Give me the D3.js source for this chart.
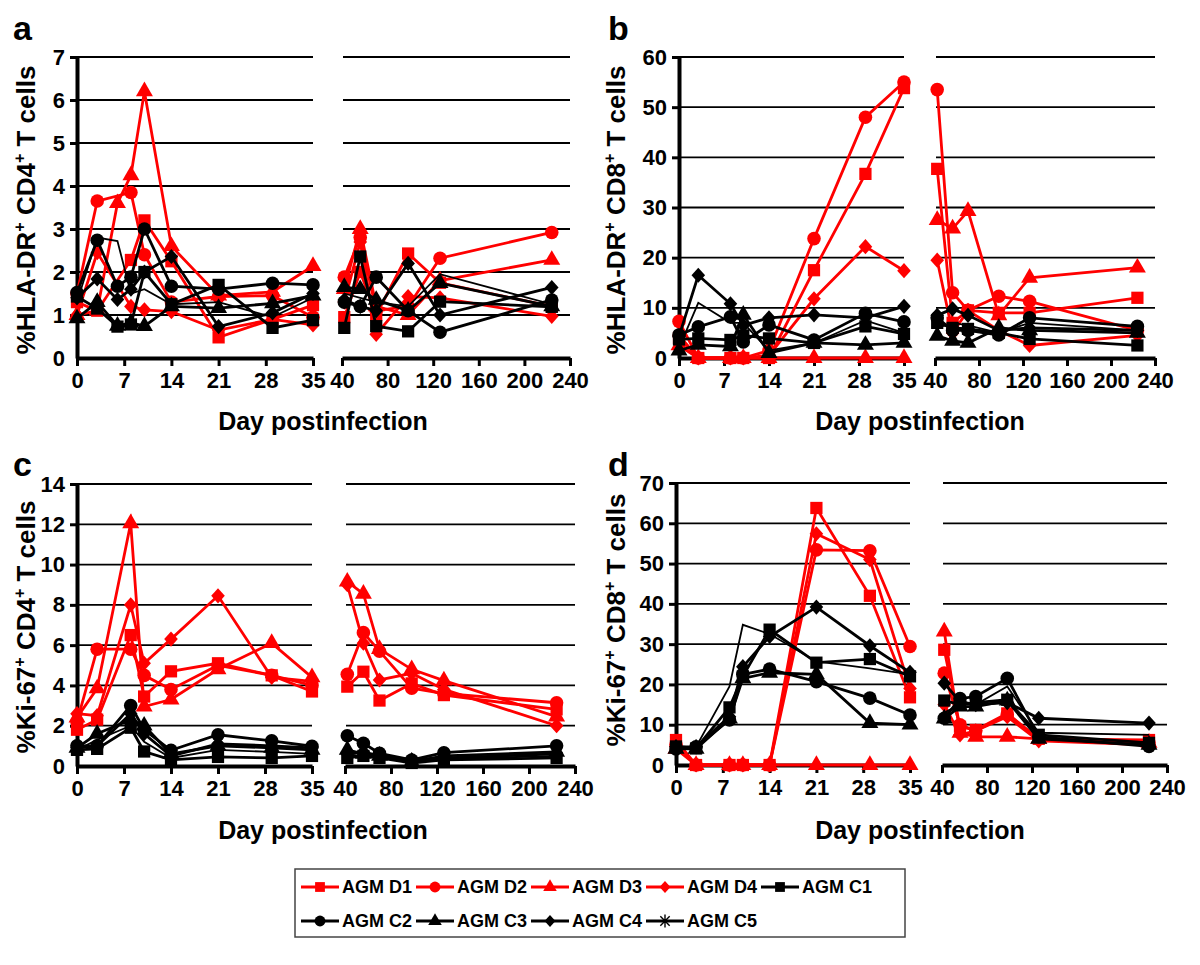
<!DOCTYPE html>
<html><head><meta charset="utf-8">
<script src="https://cdn.jsdelivr.net/npm/d3@7"></script>
<style>
body{margin:0;background:#fff}
svg{display:block}
text{font-family:"Liberation Sans",Arial,Helvetica,sans-serif;font-weight:bold;fill:#000}
</style>
</head><body>
<svg id="chart" width="1200" height="965"></svg>
<script>
// ---------- data ----------
const seriesNames = ["AGM D1","AGM D2","AGM D3","AGM D4","AGM C1","AGM C2","AGM C3","AGM C4","AGM C5"];
const seriesColors = ["#ff0000","#ff0000","#ff0000","#ff0000","#000000","#000000","#000000","#000000","#000000"];
const seriesSymbols = ["square","circle","triangle","diamond","square","circle","triangle","diamond","asterisk"];

const earlyDays = [0, 3, 6, 8, 10, 14, 21, 29, 35];
const lateDays = [42, 56, 70, 98, 126, 224];
const earlyTickLabels = [0, 7, 14, 21, 28, 35];
const lateTickLabels = [40, 80, 120, 160, 200, 240];

const panelLetters = ["a", "b", "c", "d"];
const yTitles = [["%HLA-DR","+"," CD4","+"," T cells"],["%HLA-DR","+"," CD8","+"," T cells"],["%Ki-67","+"," CD4","+"," T cells"],["%Ki-67","+"," CD8","+"," T cells"]];
const xTitle = "Day postinfection";
const yMaxes = [7, 60, 14, 70];
const ySteps = [1, 10, 2, 10];

// a: %HLA-DR+ CD4+
const hlaCD4Early = [
  [1.3, 1.1, null, 2.28, 3.2, 2.25, 0.48, 0.9, 1.23],
  [1.5, 3.65, null, 3.85, 2.4, 1.3, 1.43, 1.45, 0.95],
  [1.0, 1.1, 3.6, 4.25, 6.2, 2.6, 1.45, 1.54, 2.14],
  [1.0, 2.45, null, 1.2, 1.12, 1.08, 0.65, 0.9, 0.77],
  [1.43, 1.15, 0.73, 0.78, 2.0, 1.25, 1.7, 0.7, 0.88],
  [1.52, 2.74, 1.67, 1.88, 3.0, 1.67, 1.6, 1.74, 1.7],
  [0.92, 1.3, 0.75, 0.82, 0.74, 1.2, 1.16, 1.27, 1.45],
  [1.4, 1.84, 1.36, 1.6, 2.0, 2.36, 0.73, 1.05, 1.5],
  [1.3, 2.8, 2.72, 1.5, 1.6, 1.25, 1.3, 0.95, 1.4]
];
const hlaCD4Late = [
  [0.95, 2.0, 1.0, 2.43, 1.75, 1.2],
  [1.88, 2.8, 1.1, 1.2, 2.32, 2.92],
  [1.6, 3.0, 1.2, 1.0, 1.8, 2.28],
  [1.3, 2.7, 0.55, 1.43, 1.4, 0.97],
  [0.7, 2.36, 0.74, 0.62, 1.31, 1.19],
  [1.3, 1.2, 1.88, 1.1, 0.6, 1.35],
  [1.65, 1.6, 1.35, 1.1, 1.74, 1.2],
  [1.35, 1.2, 1.1, 2.2, 1.0, 1.64],
  [1.5, 1.4, 1.3, 1.2, 1.95, 1.25]
];
// b: %HLA-DR+ CD8+
const hlaCD8Early = [
  [4.0, 0, null, 0, 0, 0, 17.5, 36.7, 53.8],
  [7.3, 0, null, 0, 0, 1.5, 23.8, 48, 55],
  [2.5, 0, null, 0, 0, 0, 0, 0, 0],
  [4.5, 0, null, 0, 0, 0.5, 11.8, 22.2, 17.4],
  [3.7, 3.9, null, 3.6, 4.5, 3.9, 3.0, 6.3, 4.8],
  [4.6, 6.2, null, 8.2, 3.2, 6.6, 3.6, 8.9, 7.2],
  [1.5, 2.6, null, 2.3, 8.6, 1.0, 3.0, 2.6, 3.0],
  [4.3, 16.5, null, 10.8, 6.5, 8.0, 8.6, 8.0, 10.3],
  [2.0, 11.0, null, 7.0, 7.0, 1.5, 3.0, 7.5, 5.0]
];
const hlaCD8Late = [
  [37.7, 7.0, 9.5, 9.0, 9.0, 12.0],
  [53.5, 13.0, 9.5, 12.3, 11.3, 5.5],
  [27.5, 25.8, 29.3, 8.5, 16.0, 18.0],
  [19.5, 5.0, 9.5, 5.5, 2.5, 4.5],
  [7.0, 6.0, 5.8, 5.0, 3.8, 2.5],
  [8.0, 5.5, 5.5, 4.6, 8.0, 6.3],
  [4.4, 3.4, 3.0, 6.0, 5.5, 5.0],
  [8.5, 9.8, 8.5, 5.5, 6.0, 5.5],
  [6.0, 7.0, 6.5, 5.0, 7.0, 5.5]
];
// c: %Ki-67+ CD4+
const ki67CD4Early = [
  [1.8, 2.3, null, 6.5, 3.45, 4.7, 5.1, 4.5, 3.7],
  [2.2, 5.8, null, 5.8, 4.5, 3.8, 5.0, 4.5, 4.0],
  [2.4, 3.85, null, 12.05, 2.95, 3.3, 4.8, 6.1, 4.4],
  [2.6, 2.5, null, 8.0, 5.1, 6.3, 8.45, 4.4, 4.2],
  [0.8, 0.85, null, 1.9, 0.72, 0.3, 0.45, 0.4, 0.5],
  [1.0, 1.0, null, 3.0, 1.8, 0.78, 1.55, 1.25, 0.98],
  [0.9, 1.6, null, 2.3, 2.0, 0.6, 1.0, 0.9, 0.8],
  [0.9, 1.0, null, 2.6, 1.6, 0.5, 1.1, 1.0, 0.9],
  [0.8, 1.3, null, 2.0, 1.2, 0.4, 0.8, 0.7, 0.6]
];
const ki67CD4Late = [
  [3.94, 4.68, 3.25, 4.1, 3.52, 2.81],
  [4.55, 6.62, 5.7, 3.86, 3.6, 3.14],
  [9.15, 8.55, 5.8, 4.8, 4.24, 2.45],
  [9.0, 6.1, 4.27, 4.6, 3.8, 2.0],
  [0.4, 0.5, 0.4, 0.15, 0.3, 0.4],
  [1.5, 1.13, 0.63, 0.3, 0.66, 1.0],
  [0.8, 0.6, 0.5, 0.2, 0.5, 0.7],
  [0.6, 0.7, 0.5, 0.3, 0.4, 0.6],
  [0.5, 0.55, 0.45, 0.25, 0.35, 0.5]
];
// d: %Ki-67+ CD8+
const ki67CD8Early = [
  [6.2, 0, null, 0, 0, 0, 63.8, 42, 16.8],
  [5.0, 0, null, 0, 0, 0, 53.4, 53.2, 29.4],
  [4.0, 0, null, 0, 0, 0, 0, 0, 0],
  [4.5, 0, null, 0, 0, 0, 57.4, 51, 19],
  [4.6, 4.1, null, 14.3, 22, 33.6, 25.4, 26.3, 22],
  [4.0, 4.5, null, 11.2, 22.5, 23.8, 20.7, 16.6, 12.4],
  [4.0, 4.0, null, 11.5, 21.5, 22.9, 22.5, 10.4, 10.0],
  [4.5, 4.5, null, 12.0, 24.4, 31.9, 39.2, 29.6, 23.0],
  [4.0, 4.5, null, 19.5, 34.8, 32.5, 25.7, 24.0, 22.5]
];
const ki67CD8Late = [
  [28.6, 9.5, 8.7, 12.8, 6.5, 6.2],
  [22.8, 10.0, 8.5, 12.5, 6.5, 5.5],
  [33.1, 8.0, 7.0, 7.0, 6.5, 5.5],
  [15.0, 7.5, 8.5, 12.0, 6.0, 5.0],
  [16.0, 15.0, 15.5, 16.2, 7.5, 5.5],
  [11.6, 16.5, 17.0, 21.5, 7.0, 4.6],
  [11.5, 14.5, 14.5, 16.0, 6.5, 5.0],
  [20.3, 15.7, 15.0, 15.5, 11.6, 10.4],
  [13.0, 15.0, 15.0, 19.5, 8.0, 7.5]
];

const earlyData = [hlaCD4Early, hlaCD8Early, ki67CD4Early, ki67CD8Early];
const lateData = [hlaCD4Late, hlaCD8Late, ki67CD4Late, ki67CD8Late];

// ---------- layout (pixels) ----------
const layouts = [
  {ax: 77, eEnd: 313, lStart: 342, lEnd: 570, top: 57, bottom: 358, letterX: 13, letterY: 40, yTitleX: 26, yTitleY: 210, xTitleX: 323, xTitleY: 430},
  {ax: 679, eEnd: 904, lStart: 935, lEnd: 1155, top: 57, bottom: 358, letterX: 608, letterY: 40, yTitleX: 616, yTitleY: 210, xTitleX: 920, xTitleY: 430},
  {ax: 77, eEnd: 312, lStart: 345, lEnd: 575, top: 484, bottom: 766, letterX: 13, letterY: 476, yTitleX: 26, yTitleY: 627, xTitleX: 323, xTitleY: 839},
  {ax: 676, eEnd: 910, lStart: 942, lEnd: 1167, top: 483, bottom: 765, letterX: 608, letterY: 476, yTitleX: 616, yTitleY: 620, xTitleX: 920, xTitleY: 839}
];

const svg = d3.select("#chart");

function asteriskPath(r) {
  let p = "";
  for (let i = 0; i < 4; i++) {
    const a = i * Math.PI / 4;
    p += `M${(-r*Math.cos(a)).toFixed(2)},${(-r*Math.sin(a)).toFixed(2)}L${(r*Math.cos(a)).toFixed(2)},${(r*Math.sin(a)).toFixed(2)}`;
  }
  return p;
}
function symbolPath(kind, scale) {
  if (kind === "asterisk") return asteriskPath(5.5 * scale);
  if (kind === "diamond") {
    const w = 6.8 * scale, h = 7.6 * scale;
    const p = d3.path();
    p.moveTo(0, -h); p.lineTo(w, 0); p.lineTo(0, h); p.lineTo(-w, 0); p.closePath();
    return p.toString();
  }
  const map = {square: [d3.symbolSquare, 150], circle: [d3.symbolCircle, 145], triangle: [d3.symbolTriangle, 125]};
  return d3.symbol().type(map[kind][0]).size(map[kind][1] * scale * scale)();
}

function drawMarks(g, data, days, x, y) {
  data.forEach((vals, si) => {
    const pts = days.map((d, i) => [d, vals[i]]).filter(p => p[1] !== null);
    const line = d3.line().x(p => x(p[0])).y(p => y(p[1]));
    g.append("path").attr("d", line(pts)).attr("fill", "none")
      .attr("stroke", seriesColors[si]).attr("stroke-width", si === 8 ? 1.8 : 2.8)
      .attr("stroke-linejoin", "miter").attr("stroke-miterlimit", 10);
    if (seriesSymbols[si] === "asterisk") return; // C5 markers are not visible in the plot
    const sym = symbolPath(seriesSymbols[si], 1);
    g.selectAll(null).data(pts).enter().append("path")
      .attr("d", sym)
      .attr("transform", p => `translate(${x(p[0])},${y(p[1])})`)
      .attr("fill", seriesColors[si]);
  });
}

layouts.forEach((L, pi) => {
  const g = svg.append("g");
  const y = d3.scaleLinear().domain([0, yMaxes[pi]]).range([L.bottom, L.top]);
  const xE = d3.scaleLinear().domain([0, 35]).range([L.ax, L.eEnd]);
  const xL = d3.scaleLinear().domain([40, 240]).range([L.lStart, L.lEnd]);
  const yTicks = d3.range(0, yMaxes[pi] + ySteps[pi] / 2, ySteps[pi]);

  // gridlines
  const grid = g.append("g");
  yTicks.filter(t => t > 0).forEach(t => {
    grid.append("line").attr("x1", L.ax).attr("x2", L.eEnd).attr("y1", y(t)).attr("y2", y(t))
      .attr("stroke", "#000").attr("stroke-width", 1.8);
    grid.append("line").attr("x1", L.lStart + 1).attr("x2", L.lEnd).attr("y1", y(t)).attr("y2", y(t))
      .attr("stroke", "#000").attr("stroke-width", 1.8);
  });

  // axes
  const fmt = d3.format("d");
  const yAxis = d3.axisLeft(y).tickValues(yTicks).tickFormat(fmt).tickSize(7).tickSizeOuter(0).tickPadding(5);
  const ya = g.append("g").attr("transform", `translate(${L.ax},0)`).call(yAxis);
  const xEa = g.append("g").attr("transform", `translate(0,${L.bottom})`)
    .call(d3.axisBottom(xE).tickValues(earlyTickLabels).tickFormat(fmt).tickSize(8).tickSizeOuter(0).tickPadding(6));
  const xLa = g.append("g").attr("transform", `translate(0,${L.bottom})`)
    .call(d3.axisBottom(xL).tickValues(lateTickLabels).tickFormat(fmt).tickSize(8).tickSizeOuter(0).tickPadding(6));
  [ya, xEa, xLa].forEach(a => {
    a.select(".domain").attr("stroke", "#000").attr("stroke-width", 4);
    a.selectAll(".tick line").attr("stroke", "#000").attr("stroke-width", 3);
    a.selectAll(".tick text").style("font-size", "22px").style("font-weight", "bold")
      .style("font-family", '"Liberation Sans", Arial, sans-serif').attr("fill", "#000");
  });
  ya.selectAll(".tick").filter(d => d === 0).select("line").remove();

  // data marks
  drawMarks(g, earlyData[pi], earlyDays, xE, y);
  drawMarks(g, lateData[pi], lateDays, xL, y);

  // panel letter
  g.append("text").attr("x", L.letterX).attr("y", L.letterY).style("font-size", "34px").text(panelLetters[pi]);

  // x title
  g.append("text").attr("x", L.xTitleX).attr("y", L.xTitleY).attr("text-anchor", "middle")
    .style("font-size", "25px").text(xTitle);

  // y title (rotated, with superscripts)
  const yt = g.append("text").attr("transform", `translate(${L.yTitleX},${L.yTitleY}) rotate(-90)`)
    .attr("text-anchor", "middle").attr("dy", "0.35em").style("font-size", "26px");
  const parts = yTitles[pi];
  parts.forEach((p, i) => {
    const isSup = p === "+";
    const ts = yt.append("tspan").text(p);
    if (isSup) ts.attr("dy", -10).style("font-size", "16px");
    else if (i > 0 && parts[i - 1] === "+") ts.attr("dy", 10);
  });
});

// ---------- legend ----------
const lg = svg.append("g");
lg.append("rect").attr("x", 295).attr("y", 869).attr("width", 610).attr("height", 68)
  .attr("fill", "#fff").attr("stroke", "#444").attr("stroke-width", 1.5);
const legendRows = [[0, 1, 2, 3, 4], [5, 6, 7, 8]];
legendRows.forEach((row, ri) => {
  const cy = ri === 0 ? 887 : 921;
  row.forEach((si, ci) => {
    const x0 = 301 + ci * 115;
    lg.append("line").attr("x1", x0).attr("x2", x0 + 38).attr("y1", cy).attr("y2", cy)
      .attr("stroke", seriesColors[si]).attr("stroke-width", 2.8);
    const isAst = seriesSymbols[si] === "asterisk";
    lg.append("path").attr("d", symbolPath(seriesSymbols[si], isAst ? 1.2 : 0.8))
      .attr("transform", `translate(${x0 + 19},${cy})`)
      .attr("fill", isAst ? "none" : seriesColors[si])
      .attr("stroke", isAst ? seriesColors[si] : "none").attr("stroke-width", 1.4);
    lg.append("text").attr("x", x0 + 41).attr("y", cy).attr("dy", "0.36em")
      .style("font-size", "18px").text(seriesNames[si]);
  });
});
</script>
</body></html>
